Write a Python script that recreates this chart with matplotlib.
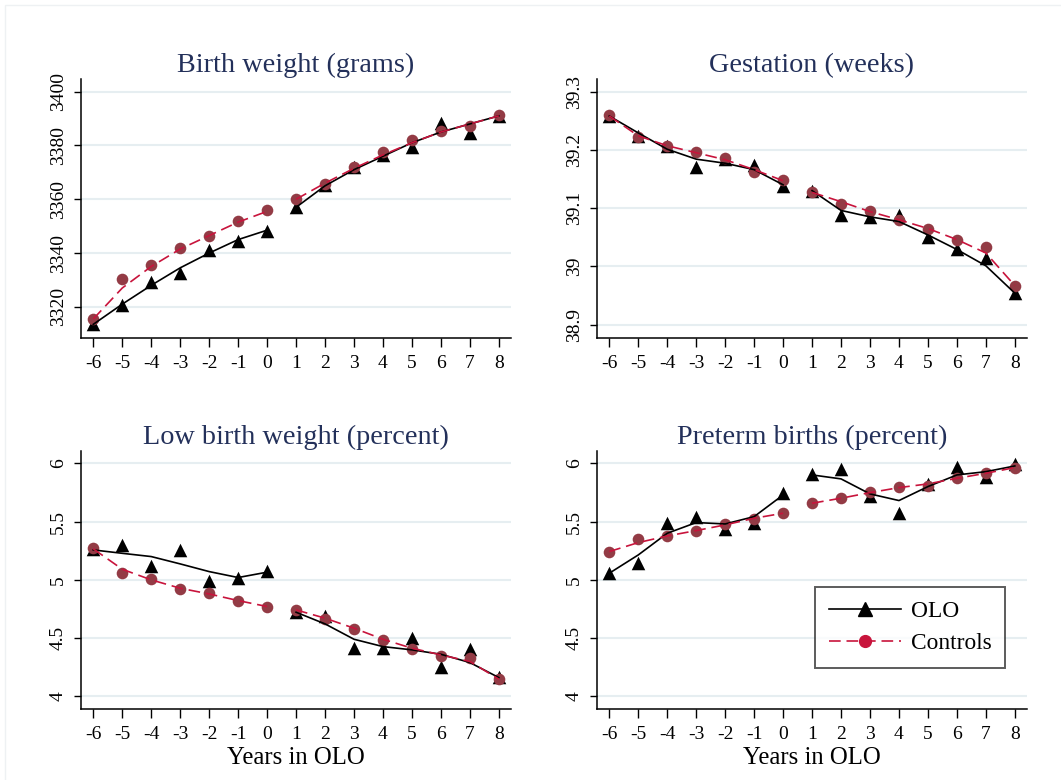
import matplotlib
matplotlib.use("Agg")
import matplotlib.pyplot as plt
from matplotlib.lines import Line2D
from matplotlib.patches import Rectangle
import numpy as np

plt.rcParams["font.family"] = ["Liberation Serif", "DejaVu Serif"]

years = [-6, -5, -4, -3, -2, -1, 0, 1, 2, 3, 4, 5, 6, 7, 8]
split = 7  # first 7 years are pre-OLO, line is broken between 0 and 1

titles = ["Birth weight (grams)", "Gestation (weeks)",
          "Low birth weight (percent)", "Preterm births (percent)"]

# raw points
bw_olo = [3313.8, 3320.6, 3329.3, 3332.4, 3341.1, 3344.6, 3348.3,
          3357.2, 3365.3, 3372.1, 3376.4, 3379.5, 3388.5, 3384.7, 3391.1]
bw_ctl = [3315.5, 3330.4, 3335.4, 3341.7, 3346.2, 3351.8, 3355.9,
          3360.1, 3365.7, 3371.9, 3377.5, 3382.0, 3385.5, 3387.2, 3391.3]
gest_olo = [39.258, 39.223, 39.206, 39.171, 39.184, 39.174, 39.138,
            39.129, 39.088, 39.084, 39.089, 39.051, 39.029, 39.014, 38.954]
gest_ctl = [39.259, 39.222, 39.207, 39.196, 39.186, 39.162, 39.148,
            39.127, 39.107, 39.095, 39.080, 39.065, 39.046, 39.033, 38.966]
lbw_olo = [5.262, 5.299, 5.119, 5.256, 4.987, 5.019, 5.076,
           4.727, 4.690, 4.412, 4.412, 4.498, 4.255, 4.404, 4.169]
lbw_ctl = [5.270, 5.062, 5.004, 4.921, 4.884, 4.818, 4.770,
           4.741, 4.664, 4.581, 4.484, 4.404, 4.349, 4.332, 4.146]
pre_olo = [5.056, 5.147, 5.485, 5.537, 5.437, 5.485, 5.742,
           5.908, 5.951, 5.720, 5.577, 5.823, 5.966, 5.886, 5.991]
pre_ctl = [5.242, 5.353, 5.376, 5.419, 5.479, 5.525, 5.571,
           5.657, 5.700, 5.754, 5.794, 5.808, 5.871, 5.914, 5.957]

# smoothed lines
bw_olo_fit = [3313.5, 3321, 3328, 3334.5, 3340, 3345, 3348.5,
              3357, 3365, 3371, 3376, 3381, 3385, 3388, 3391]
bw_ctl_fit = [3315.5, 3327, 3335, 3341.5, 3346.5, 3351.5, 3355.5,
              3360, 3366, 3371.5, 3376.5, 3381, 3385, 3388, 3391]
gest_olo_fit = [39.258, 39.229, 39.201, 39.184, 39.177, 39.166, 39.140,
                39.130, 39.096, 39.085, 39.077, 39.054, 39.029, 39.001, 38.954]
gest_ctl_fit = [39.258, 39.224, 39.207, 39.195, 39.183, 39.166, 39.147,
                39.127, 39.111, 39.094, 39.080, 39.065, 39.046, 39.023, 38.967]
lbw_olo_fit = [5.256, 5.227, 5.199, 5.136, 5.070, 5.019, 5.065,
               4.721, 4.621, 4.489, 4.426, 4.398, 4.360, 4.289, 4.160]
lbw_ctl_fit = [5.265, 5.090, 4.999, 4.927, 4.878, 4.821, 4.770,
               4.741, 4.670, 4.584, 4.489, 4.412, 4.355, 4.298, 4.146]
pre_olo_fit = [5.056, 5.213, 5.399, 5.491, 5.479, 5.542, 5.728,
               5.900, 5.866, 5.737, 5.680, 5.800, 5.900, 5.928, 5.977]
pre_ctl_fit = [5.242, 5.319, 5.376, 5.422, 5.471, 5.528, 5.571,
               5.657, 5.700, 5.748, 5.791, 5.823, 5.871, 5.914, 5.963]

yticks = [[3320, 3340, 3360, 3380, 3400], [38.9, 39, 39.1, 39.2, 39.3],
          [4, 4.5, 5, 5.5, 6], [4, 4.5, 5, 5.5, 6]]
ytick_labels = [["3320", "3340", "3360", "3380", "3400"],
                ["38.9", "39", "39.1", "39.2", "39.3"],
                ["4", "4.5", "5", "5.5", "6"], ["4", "4.5", "5", "5.5", "6"]]
ylims = [(3308.6, 3404.6), (38.878, 39.321), (3.891, 6.108), (3.891, 6.108)]

panels = [
    (bw_olo, bw_ctl, bw_olo_fit, bw_ctl_fit),
    (gest_olo, gest_ctl, gest_olo_fit, gest_ctl_fit),
    (lbw_olo, lbw_ctl, lbw_olo_fit, lbw_ctl_fit),
    (pre_olo, pre_ctl, pre_olo_fit, pre_ctl_fit),
]

TITLE_COLOR = "#23305a"
CTL_MARKER = "#933b45"
CTL_LINE = "#c8143c"
GRID = "#e6eef1"

W, H = 1061, 780
fig = plt.figure(figsize=(W / 100, H / 100), dpi=100)
fig.patches.append(Rectangle((5 / W, -0.1), 1.2, 1 - 5 / H + 0.1, transform=fig.transFigure,
                             fill=False, edgecolor="#eef1f3", linewidth=1.0))

boxes = [(80.7, 79.3), (596.7, 79.3), (80.7, 450.7), (596.7, 450.7)]
aw, ah = 430.3, 258.2

axes = []
for i, (left, top) in enumerate(boxes):
    ax = fig.add_axes([left / W, 1 - (top + ah) / H, aw / W, ah / H])
    olo, ctl, olo_fit, ctl_fit = panels[i]
    x = np.array(years)

    ax.scatter(x, olo, marker="^", s=95, color="black", zorder=3, linewidths=0)
    ax.scatter(x, ctl, marker="o", s=70, color=CTL_MARKER, zorder=4, linewidths=0)
    for sl in (slice(0, split), slice(split, None)):
        ax.plot(x[sl], np.array(olo_fit)[sl], color="black", lw=1.2, zorder=5)
        ax.plot(x[sl], np.array(ctl_fit)[sl], color=CTL_LINE, lw=1.2,
                dashes=(7, 3.5), zorder=6)

    ax.set_xlim(-6.435, 8.42)
    ax.set_ylim(*ylims[i])
    ax.set_xticks(years)
    ax.set_xticklabels([str(v) for v in years])
    ax.set_yticks(yticks[i])
    ax.set_yticklabels(ytick_labels[i], rotation=90, va="center")
    ax.yaxis.grid(True, color=GRID, lw=1.5)
    ax.set_axisbelow(True)
    for s in ("top", "right"):
        ax.spines[s].set_visible(False)
    for s in ("left", "bottom"):
        ax.spines[s].set_linewidth(1.1)
    ax.tick_params(axis="x", length=6.5, width=1.0, pad=6, labelsize=14)
    ax.tick_params(axis="y", length=5, width=1.0, pad=5, labelsize=14)
    ax.set_title(titles[i], fontsize=20.3, color=TITLE_COLOR, pad=5)
    if i >= 2:
        ax.set_xlabel("Years in OLO", fontsize=17.8, labelpad=3)
    axes.append(ax)

handles = [
    Line2D([], [], color="black", lw=1.2, marker="^", markersize=9.5, label="OLO"),
    Line2D([], [], color=CTL_LINE, lw=1.2, dashes=(7, 3.5), marker="o",
           markersize=8.5, label="Controls"),
]
leg = axes[3].legend(handles=handles, loc="upper left",
                     bbox_to_anchor=(815 / W, 1 - 587 / H), bbox_transform=fig.transFigure,
                     fontsize=16.8, frameon=True, fancybox=False, handlelength=3.1,
                     handletextpad=0.4, borderpad=0.6, labelspacing=0.45,
                     borderaxespad=0)
leg.get_frame().set_edgecolor("#333333")
leg.get_frame().set_linewidth(1.4)

fig.savefig("out.png", dpi=100, facecolor="white")
